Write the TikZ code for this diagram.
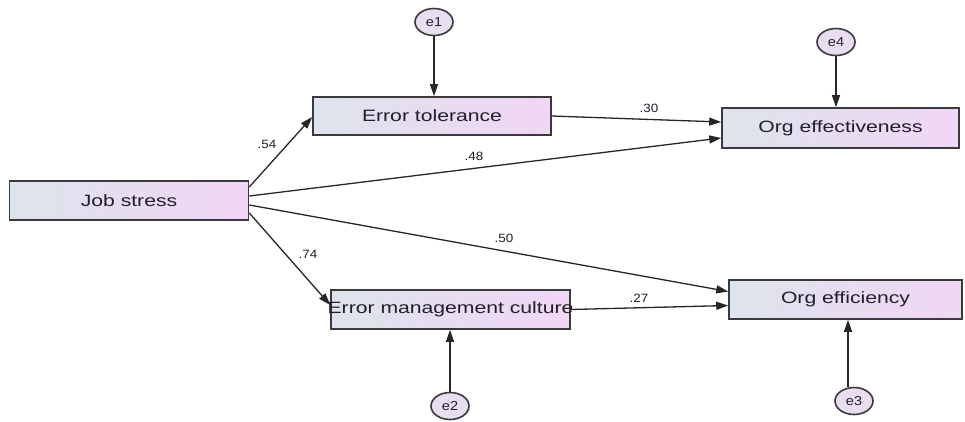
\documentclass[tikz,border=0pt]{standalone}
\usepackage{fontspec}
\setmainfont{Liberation Sans}[FakeStretch=1.29]
\newfontfamily\lblfont{Liberation Sans}[FakeStretch=1.12]
\usetikzlibrary{arrows.meta,shapes.geometric}
\definecolor{boxl}{HTML}{DDE4EC}
\definecolor{boxr}{HTML}{F1D6F5}
\definecolor{ellf}{HTML}{E9DDF0}
\definecolor{edge}{HTML}{3A3A3A}
\definecolor{txt}{HTML}{221F2A}
\tikzset{
  varbox/.style={draw=edge, line width=1.6pt, left color=boxl, right color=boxr,
    minimum height=39pt, inner sep=0pt, text=txt, font=\fontsize{16.4}{18}\selectfont},
  errell/.style={ellipse, draw=edge, line width=1.6pt, fill=ellf, minimum width=38pt,
    minimum height=27pt, inner sep=0pt, text=txt, font=\lblfont\fontsize{13}{15}\selectfont},
  path/.style={draw=black!85, line width=1.3pt, -{Triangle[length=12pt,width=8pt]}},
  coef/.style={text=txt, font=\lblfont\fontsize{12}{14}\selectfont, inner sep=0pt}
}
\begin{document}
\begin{tikzpicture}[x=1pt,y=-1pt]
\useasboundingbox (0,0) rectangle (965,421);
% variables
\node[varbox, minimum width=239pt] (js)  at (129,200.5) {Job stress};
\node[varbox, minimum width=238pt, minimum height=38pt] (et)  at (432,116) {Error tolerance};
\node[varbox, minimum width=237pt, minimum height=40pt] (oe)  at (840.5,128) {Org effectiveness};
\node[varbox, minimum width=239pt] (emc) at (450.5,309.5) {\makebox[0pt]{Error management culture}};
\node[varbox, minimum width=233pt] (of)  at (845.5,299.5) {Org efficiency};
% errors
\node[errell] (e1) at (434,22) {e1};
\node[errell] (e4) at (836,42) {e4};
\node[errell] (e2) at (450,406) {e2};
\node[errell] (e3) at (854,401) {e3};
% error arrows
\draw[path] (e1.south) -- (e1.south |- et.north);
\draw[path] (e4.south) -- (e4.south |- oe.north);
\draw[path] (e2.north) -- (e2.north |- emc.south);
\draw[path] ([xshift=-6pt]e3.north) -- ([xshift=-6pt]e3.north |- of.south);
% structural paths
\draw[path] ([yshift=13.5pt]js.east) -- ([yshift=-1pt]et.west);
\draw[path] ([yshift=4.5pt]js.east) -- ([yshift=-10pt]oe.west);
\draw[path] ([yshift=-4.5pt]js.east) -- ([yshift=8pt]of.west);
\draw[path] ([yshift=-12.5pt]js.east) -- ([yshift=4.5pt]emc.west);
\draw[path] (et.east) -- ([yshift=6pt]oe.west);
\draw[path] (emc.east) -- ([yshift=-6pt]of.west);
% coefficients
\node[coef] (c54) at (267,144) {.54};
\node[coef] (c48) at (474,156) {.48};
\node[coef] (c50) at (504,238) {.50};
\node[coef] (c74) at (308,254) {.74};
\node[coef] (c30) at (649,108) {.30};
\node[coef] (c27) at (639,298) {.27};
\end{tikzpicture}
\end{document}
